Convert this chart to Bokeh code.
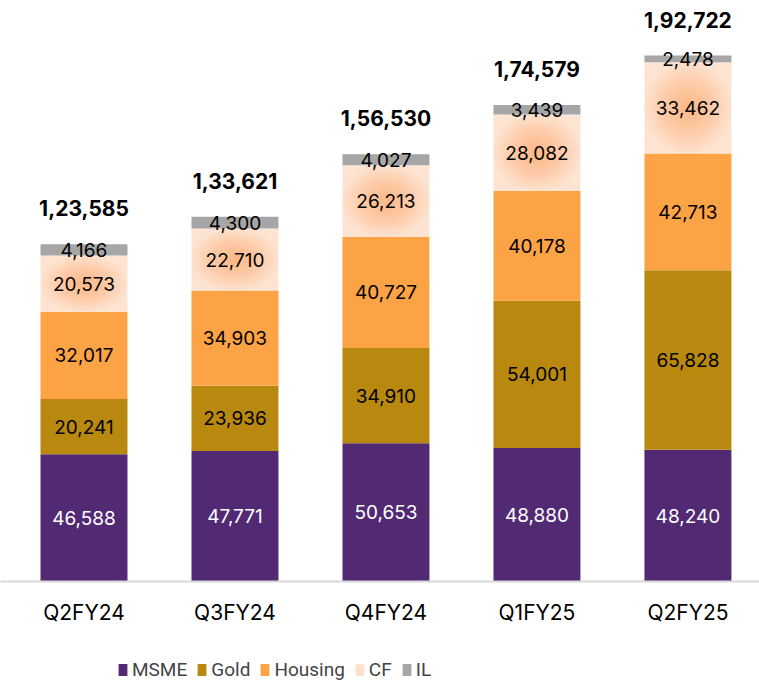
from bokeh.plotting import figure
from bokeh.layouts import column
from bokeh.models import ColumnDataSource, FixedTicker, Legend, LegendItem, Range1d
from bokeh.core.properties import value
from bokeh.embed import file_html
from bokeh.resources import INLINE

categories = ["Q2FY24", "Q3FY24", "Q4FY24", "Q1FY25", "Q2FY25"]
msme = [46588, 47771, 50653, 48880, 48240]
gold = [20241, 23936, 34910, 54001, 65828]
housing = [32017, 34903, 40727, 40178, 42713]
cf = [20573, 22710, 26213, 28082, 33462]
il = [4166, 4300, 4027, 3439, 2478]
totals = [123585, 133621, 156530, 174579, 192722]

series_names = ["MSME", "Gold", "Housing", "CF", "IL"]
series_vals = [msme, gold, housing, cf, il]
colors = ["#522a73", "#b8880f", "#fca346", "#fde3d1", "#a6a6a6"]
label_colors = ["white", "black", "black", "black", "black"]
GLOW = "#fba24a"


def indian(n):
    s = str(int(n))
    if len(s) <= 3:
        return s
    last3 = s[-3:]
    rest = s[:-3]
    parts = []
    while len(rest) > 2:
        parts.insert(0, rest[-2:])
        rest = rest[:-2]
    if rest:
        parts.insert(0, rest)
    return ",".join(parts) + "," + last3


FONT = "Inter"
LFONT = "Roboto"
x = list(range(len(categories)))
BW = 0.576

p = figure(width=759, height=637, output_backend="svg", toolbar_location=None,
           x_range=(-0.553, 4.474), y_range=(0, 212880),
           min_border_left=0, min_border_right=0, min_border_top=0, min_border_bottom=56)
p.outline_line_color = None
p.xgrid.visible = False
p.ygrid.visible = False
p.yaxis.visible = False
p.background_fill_color = "white"
p.border_fill_color = "white"

bottoms = [0] * len(x)
for name, vals, col in zip(series_names, series_vals, colors):
    tops = [b + v for b, v in zip(bottoms, vals)]
    mids = [(b + t) / 2 for b, t in zip(bottoms, tops)]
    src = ColumnDataSource(dict(x=x, bottom=bottoms, top=tops))
    p.vbar(x="x", bottom="bottom", top="top", width=BW, source=src,
           fill_color=col, line_color=None)
    if name == "CF":
        # soft radial glow in the middle of the CF segment
        for i in range(16):
            f = 1.0 - i * 0.058
            gsrc = ColumnDataSource(dict(x=x, mid=mids, h=[v * f for v in vals]))
            p.ellipse(x="x", y="mid", width=BW * f, height="h", source=gsrc,
                      fill_color=GLOW, fill_alpha=0.04, line_color=None)
    bottoms = tops

# segment value labels
bottoms = [0] * len(x)
for name, vals, lc in zip(series_names, series_vals, label_colors):
    tops = [b + v for b, v in zip(bottoms, vals)]
    mids = [(b + t) / 2 for b, t in zip(bottoms, tops)]
    src = ColumnDataSource(dict(x=x, mid=mids, lab=[indian(v) for v in vals]))
    p.text(x="x", y="mid", text="lab", source=src, text_color=lc,
           text_font=value(FONT), text_font_size="19px",
           text_align="center", text_baseline="middle")
    bottoms = tops

tsrc = ColumnDataSource(dict(x=x, y=totals, lab=[indian(v) for v in totals]))
p.text(x="x", y="y", text="lab", source=tsrc, text_color="black",
       text_font=value(FONT), text_font_size="21px", text_font_style="bold",
       text_align="center", text_baseline="middle", y_offset=-36)

p.xaxis.ticker = FixedTicker(ticks=x)
p.xaxis.major_label_overrides = {i: c for i, c in enumerate(categories)}
p.xaxis.major_tick_line_color = None
p.xaxis.minor_tick_line_color = None
p.xaxis.axis_line_color = "#d9d9d9"
p.xaxis.axis_line_width = 2
p.xaxis.major_label_text_font = FONT
p.xaxis.major_label_text_font_size = "21px"
p.xaxis.major_label_text_color = "black"
p.xaxis.major_label_standoff = 12

# legend strip (legend-only renderers sit outside the visible range)
p2 = figure(width=759, height=45, output_backend="svg", toolbar_location=None,
            x_range=Range1d(0, 1), y_range=Range1d(0, 1),
            x_axis_location=None, y_axis_location=None,
            min_border_left=0, min_border_right=0, min_border_top=0, min_border_bottom=0)
p2.grid.visible = False
p2.outline_line_color = None
items = []
for name, col in zip(series_names, colors):
    r = p2.vbar(x=[-5], top=[-5], bottom=[-6], width=0.1, fill_color=col, line_color=None)
    rs = [r]
    if name == "CF":
        for a in (0.3, 0.3):
            rs.append(p2.ellipse(x=[-5], y=[-5], width=0.05, height=0.05,
                                 fill_color=GLOW, fill_alpha=a, line_color=None))
    items.append(LegendItem(label=name, renderers=rs))

legend = Legend(items=items, orientation="horizontal", location=(117, 1),
                label_text_font=LFONT, label_text_font_size="19px",
                glyph_width=11, glyph_height=15, spacing=9, label_standoff=4,
                border_line_color=None, background_fill_alpha=0, padding=0, margin=0)
p2.add_layout(legend, "center")

layout = column(p, p2, spacing=0)
open("out.html", "w").write(file_html(layout, INLINE))
